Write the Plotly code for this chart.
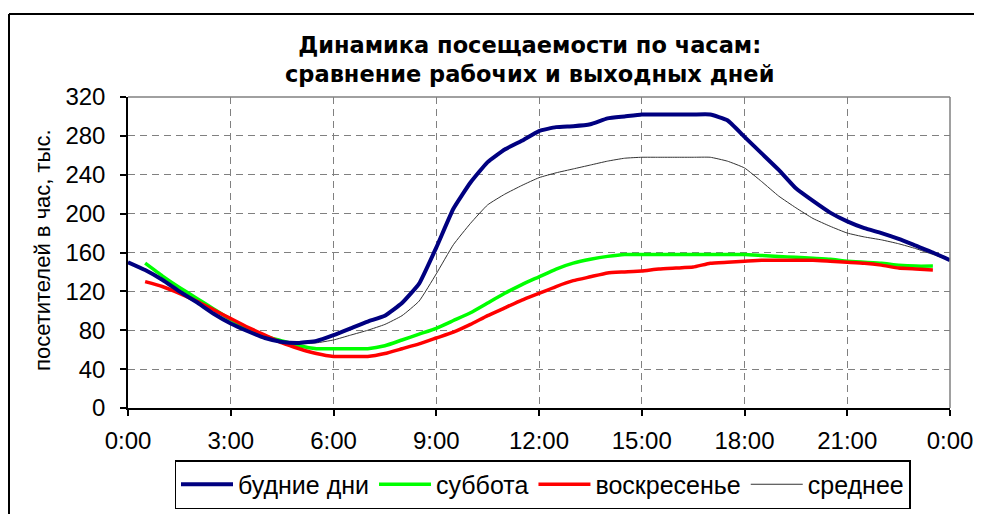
import plotly.graph_objects as go

hours_full = [i * 0.5 for i in range(49)]          # 0:00 .. 24:00
hours_weekend = [i * 0.5 for i in range(1, 48)]    # 0:30 .. 23:30

weekday = [150, 142, 132, 120, 109, 97, 87, 79, 72, 68, 67, 69, 75, 82, 89, 95,
           108, 128, 165, 205, 232, 253, 266, 275, 285, 289, 290, 292, 298, 300,
           302, 302, 302, 302, 302, 296, 279, 262, 245, 226, 213, 201, 192, 185,
           180, 174, 167, 160, 152]
average = [150, 143, 133, 121, 110, 98, 88, 80, 73, 68, 66, 67, 70, 75, 80, 86,
           95, 110, 138, 168, 190, 209, 220, 229, 237, 242, 246, 250, 254, 257,
           258, 258, 258, 258, 258, 254, 247, 233, 218, 206, 195, 187, 180, 176,
           173, 169, 164, 158, 152]
saturday = [149, 136, 124, 113, 102, 91, 82, 74, 69, 64, 61, 61, 61, 61, 64, 70,
            76, 82, 90, 98, 108, 118, 127, 135, 143, 149, 153, 156, 158, 158,
            158, 158, 158, 158, 158, 158, 157, 156, 155, 154, 153, 151, 150, 149,
            147, 146, 146]
sunday = [130, 125, 118, 110, 101, 92, 83, 75, 67, 61, 56, 53, 53, 53, 56, 61,
          66, 72, 78, 86, 95, 103, 111, 118, 125, 131, 135, 139, 140, 141,
          143, 144, 145, 149, 150, 151, 152, 152, 152, 152, 151, 150, 149, 147,
          144, 143, 142]

x_tickvals = [0, 3, 6, 9, 12, 15, 18, 21, 24]
x_ticktext = ["0:00", "3:00", "6:00", "9:00", "12:00", "15:00", "18:00", "21:00", "0:00"]
y_tickvals = [0, 40, 80, 120, 160, 200, 240, 280, 320]

names = ["будние дни", "суббота", "воскресенье", "среднее"]
title_lines = ["Динамика посещаемости по часам:", "сравнение рабочих и выходных дней"]
y_title = "посетителей в час, тыс."

# figure geometry (page has an 8px body margin)
W, H = 974, 506
L, R, T, B = 120, 32, 89, 106
PW, PH = W - L - R, H - T - B


def px(xf):
    return (xf - L) / PW


def py(yf):
    return (H - B - yf) / PH


line_smooth = dict(shape="spline", smoothing=0.4)

fig = go.Figure()
fig.add_trace(go.Scatter(x=hours_weekend, y=saturday, name=names[1], mode="lines",
                         line=dict(color="#00FF00", width=3.5, **line_smooth), legendrank=2))
fig.add_trace(go.Scatter(x=hours_weekend, y=sunday, name=names[2], mode="lines",
                         line=dict(color="#FF0000", width=3.5, **line_smooth), legendrank=3))
fig.add_trace(go.Scatter(x=hours_full, y=average, name=names[3], mode="lines",
                         line=dict(color="#333333", width=1, **line_smooth), legendrank=4))
fig.add_trace(go.Scatter(x=hours_full, y=weekday, name=names[0], mode="lines",
                         line=dict(color="#000080", width=4, **line_smooth), legendrank=1))

tick_font = dict(family="Liberation Sans, Arial, sans-serif", size=24, color="black")

fig.update_layout(
    width=W, height=H,
    margin=dict(l=L, r=R, t=T, b=B, autoexpand=False),
    paper_bgcolor="white", plot_bgcolor="white",
    font=dict(family="Liberation Sans, Arial, sans-serif", color="black", size=24),
    xaxis=dict(range=[0, 24], tickvals=x_tickvals, ticktext=x_ticktext, automargin=False,
               showgrid=True, gridcolor="#808080", griddash="7px,5px", gridwidth=1,
               showline=True, linecolor="black", linewidth=1.5,
               ticks="outside", ticklen=6, tickcolor="black", tickwidth=1.5,
               zeroline=False, tickfont=tick_font, ticklabelstandoff=4),
    yaxis=dict(range=[0, 320], tickvals=y_tickvals, automargin=False,
               showgrid=True, gridcolor="#808080", griddash="7px,5px", gridwidth=1,
               showline=True, linecolor="black", linewidth=1.5,
               ticks="outside", ticklen=6, tickcolor="black", tickwidth=1.5,
               zeroline=False, tickfont=tick_font, ticklabelstandoff=10),
    legend=dict(orientation="h", x=px((155 + 914) / 2), xanchor="center",
                y=py(452), yanchor="top", bordercolor="black", borderwidth=1.5,
                font=dict(family="Liberation Sans, Arial, sans-serif", size=25),
                itemwidth=52, traceorder="normal"),
    showlegend=True,
)

# title
fig.add_annotation(xref="paper", yref="paper", x=px(521.5), y=py(51),
                   xanchor="center", yanchor="middle", showarrow=False,
                   text="<b>" + "<br>".join(title_lines) + "</b>",
                   font=dict(family="DejaVu Sans, sans-serif", size=22.5, color="black"))
# y axis title
fig.add_annotation(xref="paper", yref="paper", x=px(34), y=py(242),
                   xanchor="center", yanchor="middle", showarrow=False, textangle=-90,
                   text=y_title,
                   font=dict(family="Liberation Sans, Arial, sans-serif", size=22, color="black"))

# gray plot-area frame on top and right
fig.add_shape(type="line", xref="paper", yref="paper", x0=0, x1=1, y0=1, y1=1,
              line=dict(color="#808080", width=1.5))
fig.add_shape(type="line", xref="paper", yref="paper", x0=1, x1=1, y0=0, y1=1,
              line=dict(color="#808080", width=1.5))
# outer chart border (top and left)
fig.add_shape(type="line", xref="paper", yref="paper",
              x0=px(1), x1=px(W + 10), y0=py(6), y1=py(6),
              line=dict(color="black", width=2))
fig.add_shape(type="line", xref="paper", yref="paper",
              x0=px(1), x1=px(1), y0=py(6), y1=py(H + 10),
              line=dict(color="black", width=2))

fig.write_html("out.html")
